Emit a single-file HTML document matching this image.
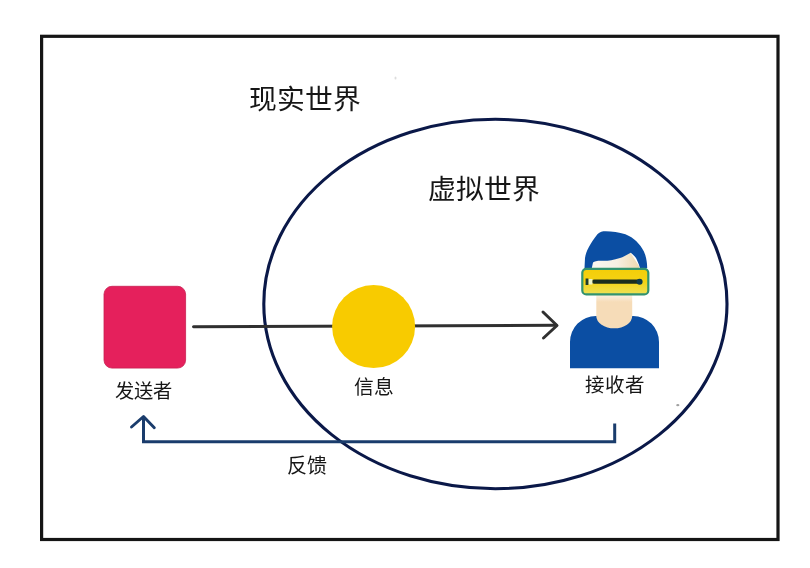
<!DOCTYPE html>
<html lang="zh-CN">
<head>
<meta charset="utf-8">
<style>
html,body{margin:0;padding:0;background:#fff;}
body{width:810px;height:568px;position:relative;overflow:hidden;font-family:"Liberation Sans",sans-serif;color:#161616;-webkit-font-smoothing:antialiased;}
svg{position:absolute;left:0;top:0;}
.t{position:absolute;white-space:nowrap;line-height:1;}
</style>
</head>
<body>
<div id="w" style="position:absolute;left:0;top:0;width:810px;height:568px;filter:blur(0.45px);">
<svg width="810" height="568" viewBox="0 0 810 568">
  <!-- frame -->
  <rect x="41.6" y="36.3" width="736.4" height="503.2" fill="none" stroke="#151515" stroke-width="3.2"/>
  <!-- ellipse -->
  <ellipse cx="495.4" cy="304" rx="231.6" ry="184.7" fill="none" stroke="#0a1848" stroke-width="3.1"/>
  <!-- sender square -->
  <rect x="104" y="286.3" width="81.6" height="81.8" rx="8" fill="#e5205c" stroke="#c81f52" stroke-width="0.8"/>
  <!-- info line + arrow -->
  <line x1="193.5" y1="326.7" x2="556" y2="325.3" stroke="#303030" stroke-width="3" stroke-linecap="round"/>
  <polyline points="543,312 557,325.5 543.5,338" fill="none" stroke="#303030" stroke-width="3" stroke-linecap="round" stroke-linejoin="round"/>
  <!-- info circle -->
  <circle cx="373.6" cy="326.6" r="41.5" fill="#f8cb00"/>
  <!-- feedback line -->
  <polyline points="614.7,423.5 614.7,441.7 143.5,441.7 143.5,418" fill="none" stroke="#1a3c6c" stroke-width="3"/>
  <polyline points="131.5,427 143.5,416.5 154.3,427.8" fill="none" stroke="#1a3c6c" stroke-width="2.9" stroke-linecap="round" stroke-linejoin="round"/>
  <ellipse cx="677.8" cy="405.2" rx="1.6" ry="1.1" fill="#8a8a8a" opacity="0.8"/>
  <ellipse cx="395.5" cy="78" rx="1" ry="1.6" fill="#cfcfcf" opacity="0.7"/>
  <!-- person -->
  <g>
    <!-- face in hair opening -->
    <defs><linearGradient id="fg" x1="0" x2="1" y1="0" y2="0"><stop offset="0" stop-color="#fbf8f2"/><stop offset="0.55" stop-color="#f7efe2"/><stop offset="1" stop-color="#efd9b0"/></linearGradient></defs><path d="M591,268 L591,260 Q605,263 630,252 L639,266 L639,268 Z" fill="url(#fg)"/>
    <!-- face/neck -->
    <defs><linearGradient id="ng" x1="0" x2="0" y1="0" y2="1"><stop offset="0" stop-color="#fbf3e8"/><stop offset="0.22" stop-color="#f6dcb8"/><stop offset="1" stop-color="#f6dcb8"/></linearGradient></defs><rect x="596.3" y="294" width="35.9" height="36" fill="url(#ng)"/>
    <!-- body -->
    <path d="M570,368.2 L570,342 A26,26 0 0 1 596,316 L596.3,316 A17.95,12.3 0 0 0 632.2,316 L633,316 A26,26 0 0 1 659,342 L659,368.2 Z" fill="#0b4ea3"/>
    <!-- hair -->
    <path d="M584.5,268 L585,258 C586,251 590,244 597.4,234.2 C600,231.8 602.5,231.3 605.6,231.3 C612,231.3 619,232.3 625.4,234.2 C634,237.5 640,244 643.9,251.4 C645.8,255.5 646.6,260 647,264 L647.2,268 L640,268 C638.5,263 637,260 636,258 C634,255.5 632.5,254 630.7,252.7 C626,255.5 623,257 620,258 C613,260.2 607,261 603,260.8 C598,260.6 594.5,261 593,262.5 L591.8,268 Z" fill="#0b4ea3"/>
    <!-- goggles -->
    <defs><linearGradient id="gg" x1="0" x2="0" y1="0" y2="1"><stop offset="0" stop-color="#f4cd08"/><stop offset="0.5" stop-color="#f4d314"/><stop offset="1" stop-color="#ece158"/></linearGradient></defs><rect x="582.3" y="268.8" width="66" height="25.6" rx="4" fill="url(#gg)" stroke="#33936f" stroke-width="2.2"/>
    <line x1="594" y1="281.7" x2="639" y2="281.7" stroke="#1a2d1e" stroke-width="4.2" stroke-linecap="round"/>
    <circle cx="639.6" cy="281.7" r="3" fill="#0d3a4d"/>
    <rect x="588.4" y="279" width="4" height="5.5" fill="#eef3c8"/><rect x="585.6" y="278.5" width="2.8" height="6.5" fill="#1d3b2c"/>
  </g>
</svg>
<div class="t" style="left:249px;top:86px;font-size:27.8px;">现实世界</div>
<div class="t" style="left:428px;top:175.5px;font-size:27.8px;">虚拟世界</div>
<div class="t" style="left:115px;top:382px;font-size:19.3px;">发送者</div>
<div class="t" style="left:353.5px;top:377.5px;font-size:19.8px;">信息</div>
<div class="t" style="left:585px;top:375.5px;font-size:19.5px;">接收者</div>
<div class="t" style="left:287px;top:455.5px;font-size:20px;">反馈</div>
</div>
</body>
</html>
